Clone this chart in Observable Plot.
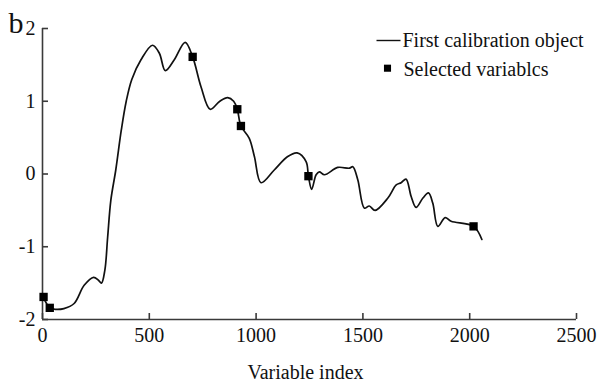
<!DOCTYPE html>
<html>
<head>
<meta charset="utf-8">
<script src="https://cdn.jsdelivr.net/npm/d3@7"></script>
<script src="https://cdn.jsdelivr.net/npm/@observablehq/plot@0.6"></script>
<style>
  html, body { margin: 0; padding: 0; background: #fff; }
  #chart { width: 597px; height: 385px; }
</style>
</head>
<body>
<div id="chart"></div>
<script>
// Spectrum of the first calibration object (variable index vs b2)
const curveX = [0, 15, 34, 60, 100, 148, 195, 239, 262, 276, 292, 305, 320, 343, 369, 392, 418, 461, 515, 547, 575, 617, 668, 703, 742, 785, 830, 867, 895, 912, 929, 968, 992, 1023, 1085, 1148, 1192, 1234, 1245, 1260, 1281, 1296, 1320, 1382, 1437, 1453, 1476, 1507, 1530, 1557, 1617, 1656, 1679, 1702, 1726, 1749, 1781, 1807, 1827, 1851, 1885, 1913, 2018, 2057];
const curveY = [-1.68, -1.76, -1.84, -1.86, -1.85, -1.78, -1.53, -1.42, -1.46, -1.50, -1.32, -0.87, -0.36, 0.055, 0.605, 1.0, 1.30, 1.57, 1.77, 1.66, 1.42, 1.57, 1.81, 1.61, 1.20, 0.89, 1.00, 1.05, 1.00, 0.89, 0.66, 0.49, 0.24, -0.12, 0.055, 0.24, 0.29, 0.17, -0.03, -0.21, -0.01, 0.03, -0.01, 0.09, 0.08, 0.10, -0.08, -0.47, -0.44, -0.50, -0.33, -0.15, -0.12, -0.07, -0.31, -0.46, -0.33, -0.26, -0.40, -0.72, -0.60, -0.65, -0.72, -0.90];

// Selected variables
const selX = [5, 34, 703, 912, 929, 1245, 2018];
const selY = [-1.69, -1.84, 1.61, 0.89, 0.66, -0.03, -0.72];

// Axis ticks and texts
const xTicks = [0, 500, 1000, 1500, 2000, 2500];
const yTicks = [-2, -1, 0, 1, 2];
const xLabel = "Variable index";
const yLabel = "b";
const legendLine = "First calibration object";
const legendSquare = "Selected variablcs";

const curve = curveX.map((x, i) => ({x, y: curveY[i]}));
const selected = selX.map((x, i) => ({x, y: selY[i]}));

const W = 597, H = 385, mL = 42, mR = 21, mT = 28, mB = 66;
const frameW = W - mL - mR, frameH = H - mT - mB;
const tickLen = 6;

const axisColor = "#3a3a3a";
const ink = "#111";
const font = "Liberation Serif, Times New Roman, serif";

const lineSymbol = {draw(ctx) { ctx.moveTo(-12, 0); ctx.lineTo(12, 0); }};
const fmt = d => String(d);

const chart = Plot.plot({
  width: W,
  height: H,
  marginLeft: mL,
  marginRight: mR,
  marginTop: mT,
  marginBottom: mB,
  style: {fontFamily: font, background: "#fff", color: ink},
  x: {domain: [0, 2500], label: null, axis: null},
  y: {domain: [-2, 2], label: null, axis: null},
  marks: [
    Plot.ruleY([-2], {stroke: axisColor, strokeWidth: 1.6}),
    Plot.ruleX([0], {stroke: axisColor, strokeWidth: 1.6}),
    // inward ticks
    Plot.ruleX(xTicks, {x: d => d, insetTop: frameH - tickLen, stroke: axisColor, strokeWidth: 1.6}),
    Plot.ruleY(yTicks, {y: d => d, insetRight: frameW - tickLen, stroke: axisColor, strokeWidth: 1.6}),
    // tick labels
    Plot.text(xTicks, {x: d => d, frameAnchor: "bottom", text: fmt, lineAnchor: "top", dy: 8, fontSize: 20, fontFamily: font, fill: ink}),
    Plot.text(yTicks, {y: d => d, frameAnchor: "left", text: fmt, lineAnchor: "middle", textAnchor: "end", dx: -7, fontSize: 20, fontFamily: font, fill: ink}),
    Plot.line(curve, {x: "x", y: "y", curve: "catmull-rom", stroke: ink, strokeWidth: 1.7}),
    Plot.dot(selected, {x: "x", y: "y", symbol: "square", r: 4.7, fill: "#000", stroke: "none"}),
    // y label
    Plot.text([yLabel], {frameAnchor: "top-left", text: d => d, textAnchor: "start", lineAnchor: "middle", fontSize: 30, fontFamily: font, dx: -34, dy: -5.6, fill: ink}),
    // x label
    Plot.text([xLabel], {frameAnchor: "bottom", text: d => d, lineAnchor: "middle", fontSize: 20, fontFamily: font, dx: -4, dy: 52.6, fill: ink}),
    // legend
    Plot.dot([legendLine], {frameAnchor: "top-left", symbol: lineSymbol, r: 5, stroke: ink, strokeWidth: 1.4, dx: 346, dy: 12}),
    Plot.text([legendLine], {frameAnchor: "top-left", text: d => d, textAnchor: "start", lineAnchor: "middle", fontSize: 20, fontFamily: font, dx: 360, dy: 12.3, fill: ink}),
    Plot.dot([legendSquare], {frameAnchor: "top-left", symbol: "square", r: 4, fill: "#000", stroke: "none", dx: 345, dy: 39.7}),
    Plot.text([legendSquare], {frameAnchor: "top-left", text: d => d, textAnchor: "start", lineAnchor: "middle", fontSize: 20, fontFamily: font, dx: 361, dy: 40.6, fill: ink})
  ]
});

document.getElementById("chart").appendChild(chart);
</script>
</body>
</html>
